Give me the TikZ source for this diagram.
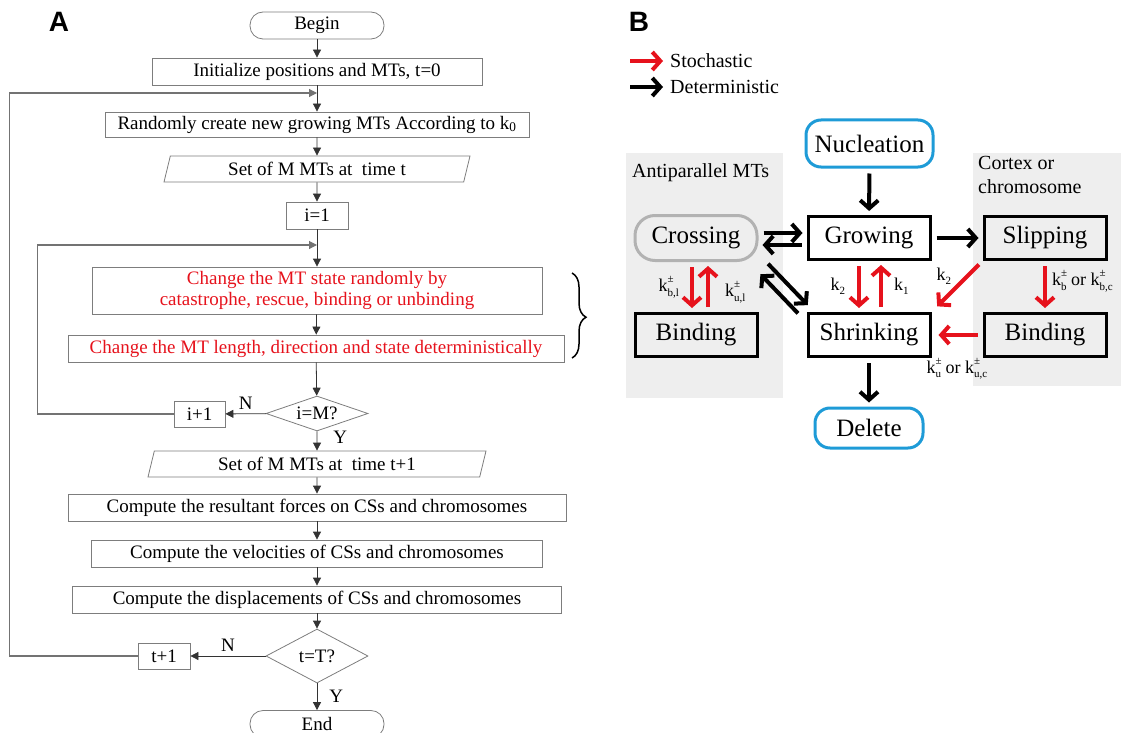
\documentclass[tikz,border=0pt]{standalone}
\usepackage{fontspec}
\usepackage{xcolor}
\setmainfont{Liberation Serif}
\setsansfont{Liberation Sans}
\usetikzlibrary{arrows.meta,shapes.geometric,decorations.pathreplacing}
\definecolor{stochred}{RGB}{230,18,28}
\definecolor{endblue}{RGB}{30,155,215}
\definecolor{panelgray}{RGB}{238,238,238}
\definecolor{flowgray}{RGB}{125,125,125}
\newcommand{\ratesub}[1]{\raisebox{-0.25em}{\fontsize{11}{11}\selectfont#1}}
\newcommand{\rate}[2]{k\rlap{\raisebox{0.5em}{\fontsize{11}{11}\selectfont#1}}\ratesub{#2}}

\begin{document}
\begin{tikzpicture}[x=1pt,y=1pt,every text node part/.style={align=center},
  flowbox/.style={draw=flowgray,line width=0.8pt,minimum height=27pt,font=\fontsize{19}{21}\selectfont},
  flowend/.style={flowbox,rounded corners=13pt,minimum width=134pt},
  flowio/.style={flowbox,trapezium,trapezium left angle=65,trapezium right angle=115,trapezium stretches body,minimum height=26pt},
  flowdec/.style={flowbox,diamond,aspect=2.9,minimum width=102pt},
  flowarrow/.style={draw=black!80,line width=0.8pt,-{Triangle[length=8pt,width=8pt]}},
  flowloop/.style={flowarrow,draw=black!55,line width=1.1pt},
  flowlabel/.style={font=\fontsize{19}{21}\selectfont},
  panelletter/.style={font=\sffamily\bfseries\fontsize{28}{30}\selectfont},
  statebox/.style={draw,line width=3pt,minimum width=122pt,minimum height=43pt,font=\fontsize{25}{28}\selectfont},
  stateend/.style={statebox,draw=endblue,rounded corners=15pt},
  statecross/.style={statebox,draw=black!30,rounded corners=20pt,minimum height=45pt},
  paneltext/.style={font=\fontsize{20}{24}\selectfont},
  ratelabel/.style={font=\fontsize{18}{20}\selectfont},
  detarrow/.style={draw=black,line width=4pt,-{Straight Barb[length=8pt,width=18pt]},shorten <=5pt,shorten >=4pt},
  stocharrow/.style={detarrow,draw=stochred}]
\tikzstyle{every node}+=[inner sep=0pt]
\useasboundingbox (0,0) rectangle (1121,-733);

\node [panelletter] (letterA) at (59,-22) {A};
\node [flowend] (begin) at (317,-25.5) {Begin};
\node [flowbox,minimum width=330pt] (init) at (317,-71.5) {Initialize positions and MTs, t=0};
\coordinate (outerjoin) at (317,-93);
\node [flowbox,minimum width=424pt,minimum height=25pt] (create) at (317,-124.5) {Randomly create new growing MTs According to k\textsubscript{0}};
\node [flowio,minimum width=306pt] (setold) at (317,-169) {Set of M MTs at~ time t};
\node [flowbox,minimum width=62pt] (ione) at (317,-215.5) {i=1};
\coordinate (innerjoin) at (317,-245);
\node [flowbox,minimum width=450pt,minimum height=47pt,text=stochred] (random) at (317,-290.5) {Change the MT state randomly by\\catastrophe, rescue, binding or unbinding};
\node [flowbox,minimum width=496pt,text=stochred] (determ) at (316,-348.5) {Change the MT length, direction and state deterministically};
\node [flowdec,minimum height=35pt] (checki) at (317,-413.5) {i=M?};
\node [flowbox,minimum width=51pt,minimum height=26pt] (inext) at (199.5,-414) {i+1};
\node [flowio,minimum width=338pt] (setnew) at (317,-464) {Set of M MTs at~ time t+1};
\node [flowbox,minimum width=498pt] (forces) at (317,-507.5) {Compute the resultant forces on CSs and chromosomes};
\node [flowbox,minimum width=451pt] (veloc) at (317,-553.5) {Compute the velocities of CSs and chromosomes};
\node [flowbox,minimum width=489pt] (displ) at (317,-599.5) {Compute the displacements of CSs and chromosomes};
\node [flowdec,minimum height=54pt] (checkt) at (317,-656) {t=T?};
\node [flowbox,minimum width=52pt,minimum height=26pt] (tnext) at (164,-656) {t+1};
\node [flowend] (finish) at (317,-724) {End};

\draw [flowarrow] (begin) -- (init);
\draw [flowarrow] (init) -- (create);
\draw [flowarrow] (create) -- (setold);
\draw [flowarrow] (setold) -- (ione);
\draw [flowarrow] (ione) -- (random);
\draw [flowarrow] (random) -- (determ);
\draw [flowarrow] (determ) -- (checki);
\draw [flowarrow] (checki) -- node [flowlabel,above=4pt] {N} (inext);
\draw [flowarrow] (checki) -- node [flowlabel,pos=0.3,right=16pt] {Y} (setnew);
\draw [flowarrow] (setnew) -- (forces);
\draw [flowarrow] (forces) -- (veloc);
\draw [flowarrow] (veloc) -- (displ);
\draw [flowarrow] (displ) -- (checkt);
\draw [flowarrow] (checkt) -- node [flowlabel,above=4pt] {N} (tnext);
\draw [flowarrow] (checkt) -- node [flowlabel,right=12pt] {Y} (finish);
\draw [flowloop] (inext.west) -- ++(-136,0) |- (innerjoin);
\draw [flowloop] (tnext.west) -- ++(-128,0) |- (outerjoin);
\draw [line width=1.5pt,decorate,decoration={brace,amplitude=14pt,aspect=0.52}] (572,-273) -- (572,-358);

\fill [panelgray] (626,-153) rectangle (783,-398);
\fill [panelgray] (973,-153) rectangle (1121,-386);
\node [panelletter] (letterB) at (639,-22) {B};
\node [paneltext,anchor=west] (stochtext) at (670,-61) {Stochastic};
\node [paneltext,anchor=west] (detertext) at (670,-87) {Deterministic};
\coordinate (stochfrom) at (630,-61);
\coordinate (deterfrom) at (630,-87);
\draw [stocharrow,shorten <=0pt,shorten >=7pt] (stochfrom) -- (stochtext);
\draw [detarrow,shorten <=0pt,shorten >=7pt] (deterfrom) -- (detertext);
\node [paneltext,anchor=base west] (antitext) at (632,-177) {Antiparallel MTs};
\node [paneltext,anchor=north west,every text node part/.style={align=left}] (cortextext) at (978,-156) {Cortex or\\chromosome};

\node [stateend,minimum width=127pt,minimum height=47pt] (nucleation) at (869.5,-143.5) {Nucleation};
\node [statebox] (growing) at (869,-238) {Growing};
\node [statecross] (crossing) at (696,-238) {Crossing};
\node [statebox] (slipping) at (1045,-238) {Slipping};
\node [statebox] (shrinking) at (869,-335) {Shrinking};
\node [statebox] (bindleft) at (696,-335) {Binding};
\node [statebox] (bindright) at (1045,-335) {Binding};
\node [stateend,minimum width=108pt,minimum height=40pt] (delete) at (869,-428) {Delete};

\draw [detarrow] (nucleation) -- (growing);
\draw [detarrow] ([yshift=5pt]crossing.east) -- ([yshift=5pt]growing.west);
\draw [detarrow] ([yshift=-7pt]growing.west) -- ([yshift=-7pt]crossing.east);
\draw [detarrow] (growing) -- (slipping);
\draw [detarrow,shorten <=8pt] ([shift={(4pt,4pt)}]crossing.south east) -- ([shift={(4pt,4pt)}]shrinking.north west);
\draw [detarrow,shorten >=10pt] ([shift={(-5pt,-5pt)}]shrinking.north west) -- ([shift={(-5pt,-5pt)}]crossing.south east);
\draw [detarrow] (shrinking) -- (delete);
\draw [stocharrow] ([xshift=-10pt]growing.south) -- node [ratelabel,left=12pt] {k\ratesub{2}} ([xshift=-10pt]shrinking.north);
\draw [stocharrow] ([xshift=12pt]shrinking.north) -- node [ratelabel,right=11pt] {k\ratesub{1}} ([xshift=12pt]growing.south);
\draw [stocharrow] ([xshift=-4pt]crossing.south) -- node [ratelabel,left=11pt] {\rate{±}{b,l}} ([xshift=-4pt]bindleft.north);
\draw [stocharrow] ([xshift=12pt]bindleft.north) -- node [ratelabel,pos=0.4,right=15pt] {\rate{±}{u,l}} ([xshift=12pt]crossing.south);
\draw [stocharrow,shorten >=8pt] (slipping.south west) -- node [ratelabel,pos=0.3,left=14pt] {k\ratesub{2}} (shrinking.north east);
\draw [stocharrow] (slipping) -- node [ratelabel,pos=0.4,right=5pt] {\rate{±}{b} or \rate{±}{b,c}} (bindright);
\draw [stocharrow,shorten >=7pt] (bindright) -- node [ratelabel,below=21pt] {\rate{±}{u} or \rate{±}{u,c}} (shrinking);
\end{tikzpicture}
\end{document}
